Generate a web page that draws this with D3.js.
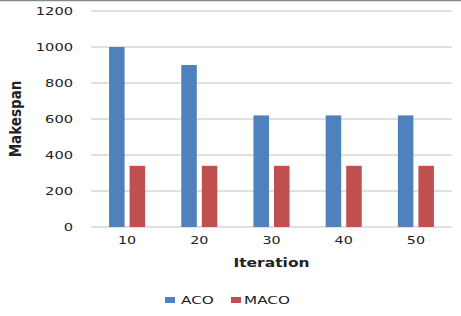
<!DOCTYPE html>
<html>
    <head>
        <script type="text/javascript" src="https://cdn.jsdelivr.net/npm/d3@7"></script>
        <style type="text/css">
            body { margin: 0; background: white; }
            text { font-family: "DejaVu Sans", Verdana, sans-serif; fill: #222; }
        </style>
    </head>
    <body>
        <script type="text/javascript">

            // Data
            var iterations = ["10", "20", "30", "40", "50"];
            var seriesNames = ["ACO", "MACO"];
            var aco = [1000, 900, 620, 620, 620];
            var maco = [340, 340, 340, 340, 340];
            var yTicks = [0, 200, 400, 600, 800, 1000, 1200];

            var colors = ["#4f81bd", "#c0504d"];

            var w = 461, h = 316;
            var plotLeft = 91, plotRight = 452, plotTop = 11, plotBottom = 227;

            // the original picture is stretched sideways, so widen texts a bit
            function stretch(sel, k) {
                sel.each(function(){
                    var len = this.getComputedTextLength();
                    d3.select(this)
                        .attr("textLength", len * k)
                        .attr("lengthAdjust", "spacingAndGlyphs");
                });
            }

            var svg = d3.select("body")
                        .append("svg")
                        .attr("width", w)
                        .attr("height", h);

            // top border line
            svg.append("line")
                .attr("x1", 0).attr("x2", w)
                .attr("y1", 0.5).attr("y2", 0.5)
                .attr("stroke", "#888").attr("stroke-width", 1.5);

            var x = d3.scaleBand()
                        .domain(iterations)
                        .range([plotLeft, plotRight]);

            var xInner = d3.scaleBand()
                        .domain(seriesNames)
                        .range([0, x.bandwidth()])
                        .paddingInner(0.244)
                        .paddingOuter(0.88);

            var y = d3.scaleLinear()
                        .domain([0, 1200])
                        .range([plotBottom, plotTop]);

            // gridlines
            svg.append("g")
                .selectAll("line")
                .data(yTicks)
                .enter()
                .append("line")
                .attr("x1", plotLeft).attr("x2", plotRight)
                .attr("y1", function(d){ return y(d); })
                .attr("y2", function(d){ return y(d); })
                .attr("stroke", "#d6d6d6")
                .attr("stroke-width", 1.5);

            // y axis labels
            var yAxis = d3.axisLeft(y).tickValues(yTicks).tickSize(0).tickPadding(0).tickFormat(d3.format("d"));
            var gy = svg.append("g")
                .attr("transform", "translate(73,0)")
                .call(yAxis);
            gy.select(".domain").remove();
            gy.selectAll("text").style("font-size", "11px").style("fill", "#222")
                .attr("dy", "0.36em").call(stretch, 1.33);

            // x axis labels
            var xAxis = d3.axisBottom(x).tickSize(0).tickPadding(0);
            var gx = svg.append("g")
                .attr("transform", "translate(0,236)")
                .call(xAxis);
            gx.select(".domain").remove();
            gx.selectAll("text").style("font-size", "11px").style("fill", "#222")
                .call(stretch, 1.3);

            // bars
            var data = iterations.map(function(it, i){
                return { it: it, vals: [aco[i], maco[i]] };
            });

            var groups = svg.selectAll("g.cat")
                .data(data)
                .enter()
                .append("g")
                .attr("class", "cat")
                .attr("transform", function(d){ return "translate(" + x(d.it) + ",0)"; });

            groups.selectAll("rect")
                .data(function(d){
                    return d.vals.map(function(v, j){ return { name: seriesNames[j], value: v, j: j }; });
                })
                .enter()
                .append("rect")
                .attr("x", function(d){ return xInner(d.name); })
                .attr("width", xInner.bandwidth())
                .attr("y", function(d){ return y(d.value); })
                .attr("height", function(d){ return y(0) - y(d.value); })
                .attr("fill", function(d){ return colors[d.j]; });

            // axis titles
            svg.append("text")
                .attr("x", (plotLeft + plotRight) / 2)
                .attr("y", 267)
                .attr("text-anchor", "middle")
                .style("font-size", "12.5px")
                .style("font-weight", "bold")
                .text("Iteration")
                .call(stretch, 1.24);

            svg.append("text")
                .attr("transform", "translate(21," + ((plotTop + plotBottom) / 2) + ") rotate(-90)")
                .attr("text-anchor", "middle")
                .style("font-family", "'Liberation Sans Narrow', 'DejaVu Sans Condensed', sans-serif")
                .style("font-size", "15px")
                .style("font-weight", "bold")
                .text("Makespan");

            // legend
            var legendX = [165, 231];
            var legend = svg.selectAll("g.legend")
                .data(seriesNames)
                .enter()
                .append("g")
                .attr("class", "legend")
                .attr("transform", function(d, i){ return "translate(" + legendX[i] + ",297)"; });

            legend.append("rect")
                .attr("width", 10).attr("height", 6)
                .attr("fill", function(d, i){ return colors[i]; });

            legend.append("text")
                .attr("x", function(d, i){ return i === 0 ? 16 : 13; })
                .attr("y", 6.5)
                .style("font-size", "10.5px")
                .text(function(d){ return d; })
                .call(stretch, 1.45);

        </script>
    </body>
</html>
